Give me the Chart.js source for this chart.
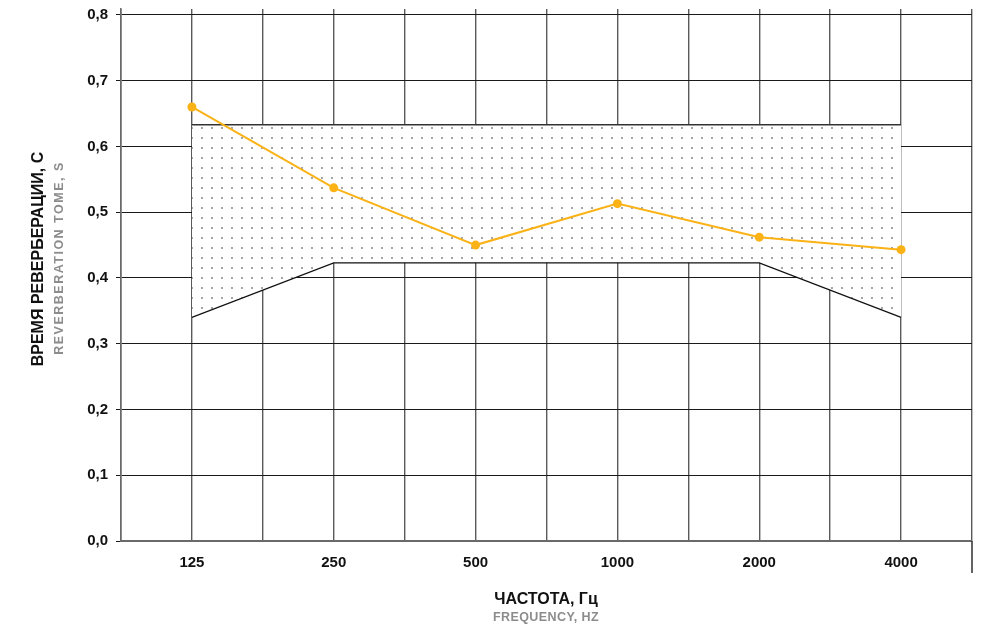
<!DOCTYPE html>
<html>
<head>
<meta charset="utf-8">
<script src="https://cdn.jsdelivr.net/npm/chart.js@4/dist/chart.umd.min.js"></script>
<style>
  body { margin: 0; background: #fff; }
  #wrap { position: relative; width: 981px; height: 625px; font-family: "Liberation Sans", Arial, sans-serif; }
  .t { position: absolute; white-space: nowrap; font-weight: bold; }
  .ru { font-size: 16px; color: #111; }
  .en { font-size: 12.5px; color: #8c8c8c; }
  .rot { transform: translate(-50%, -50%) rotate(-90deg); }
  .hor { transform: translate(-50%, -50%); }
</style>
</head>
<body>
<div id="wrap">
  <canvas id="chart" width="981" height="625"></canvas>
  <div class="t ru rot" style="left:38px; top:259px;">ВРЕМЯ РЕВЕРБЕРАЦИИ, С</div>
  <div class="t en rot" style="left:59px; top:258px; letter-spacing:1.5px;">REVERBERATION TOME, S</div>
  <div class="t ru hor" style="left:546px; top:599px;">ЧАСТОТА, Гц</div>
  <div class="t en hor" style="left:546px; top:617px; letter-spacing:0.4px;">FREQUENCY, HZ</div>
</div>
<script>
// Data
const freqLabels = ['125', '250', '500', '1000', '2000', '4000'];
const reverbTime = [0.66, 0.537, 0.45, 0.513, 0.462, 0.443];

// tolerance band (positions are category indexes)
const upperIdx = [0, 5];
const upperVal = [0.633, 0.633];
const lowerIdx = [0, 1, 4, 5];
const lowerVal = [0.34, 0.423, 0.423, 0.34];

const yTicks = [0, 0.1, 0.2, 0.3, 0.4, 0.5, 0.6, 0.7, 0.8];

// dotted fill
const tile = document.createElement('canvas');
tile.width = 10;
tile.height = 10;
const tctx = tile.getContext('2d');
tctx.fillStyle = '#fff';
tctx.fillRect(0, 0, 10, 10);
tctx.fillStyle = '#7a7a7a';
tctx.beginPath();
tctx.arc(2, 8, 0.9, 0, Math.PI * 2);
tctx.fill();
const dots = document.getElementById('chart').getContext('2d').createPattern(tile, 'repeat');

// right edge runs down past the axis
const edgeLine = {
    id: 'edgeLine',
    afterDraw(chart) {
        const { ctx, chartArea } = chart;
        ctx.save();
        ctx.strokeStyle = '#222';
        ctx.lineWidth = 1.4;
        ctx.beginPath();
        ctx.moveTo(chartArea.right, chartArea.bottom);
        ctx.lineTo(chartArea.right, chartArea.bottom + 32);
        ctx.stroke();
        ctx.restore();
    }
};

const tickFont = { family: '"Liberation Sans", Arial, sans-serif', size: 15, weight: 'bold' };

new Chart(document.getElementById('chart'), {
    type: 'scatter',
    data: {
        datasets: [{
            data: reverbTime.map((v, i) => ({ x: i, y: v })),
            showLine: true,
            borderColor: '#FBB217',
            backgroundColor: '#FBB217',
            borderWidth: 2,
            pointRadius: 4.5,
            pointBorderWidth: 0,
            fill: false,
        }, {
            data: upperIdx.map((x, i) => ({ x: x, y: upperVal[i] })),
            showLine: true,
            borderColor: '#333',
            borderWidth: 1.4,
            pointRadius: 0,
            backgroundColor: dots,
            fill: '+1',
        }, {
            data: lowerIdx.map((x, i) => ({ x: x, y: lowerVal[i] })),
            showLine: true,
            borderColor: '#111',
            borderWidth: 1.2,
            pointRadius: 0,
            fill: false,
        }]
    },
    options: {
        responsive: false,
        animation: false,
        layout: { padding: { top: 9, right: 9, left: 0, bottom: 0 } },
        plugins: {
            legend: { display: false },
            tooltip: { enabled: false },
            filler: { drawTime: 'beforeDatasetsDraw' },
        },
        scales: {
            x: {
                type: 'linear',
                min: -0.5,
                max: 5.5,
                afterFit: (s) => { s.height = 84; s.paddingLeft = 0; s.paddingRight = 0; },
                border: { color: '#6a6a6a', width: 2 },
                grid: { color: '#5a5a5a', lineWidth: 1.4, drawTicks: false },
                ticks: {
                    stepSize: 0.5,
                    padding: 13,
                    color: '#111',
                    font: tickFont,
                    maxRotation: 0,
                    autoSkip: false,
                    callback: (v) => Number.isInteger(v) ? freqLabels[v] : '',
                },
            },
            y: {
                min: 0,
                max: 0.809,
                afterFit: (s) => { s.width = 121; s.paddingTop = 0; s.paddingBottom = 0; },
                afterBuildTicks: (s) => { s.ticks = yTicks.map(v => ({ value: v })); },
                border: { color: '#6a6a6a', width: 1.6 },
                grid: { color: '#1a1a1a', lineWidth: 1, tickLength: 5 },
                ticks: {
                    padding: 8,
                    color: '#111',
                    font: tickFont,
                    callback: (v) => v.toFixed(1).replace('.', ','),
                },
            },
        },
    },
    plugins: [edgeLine],
});
</script>
</body>
</html>
